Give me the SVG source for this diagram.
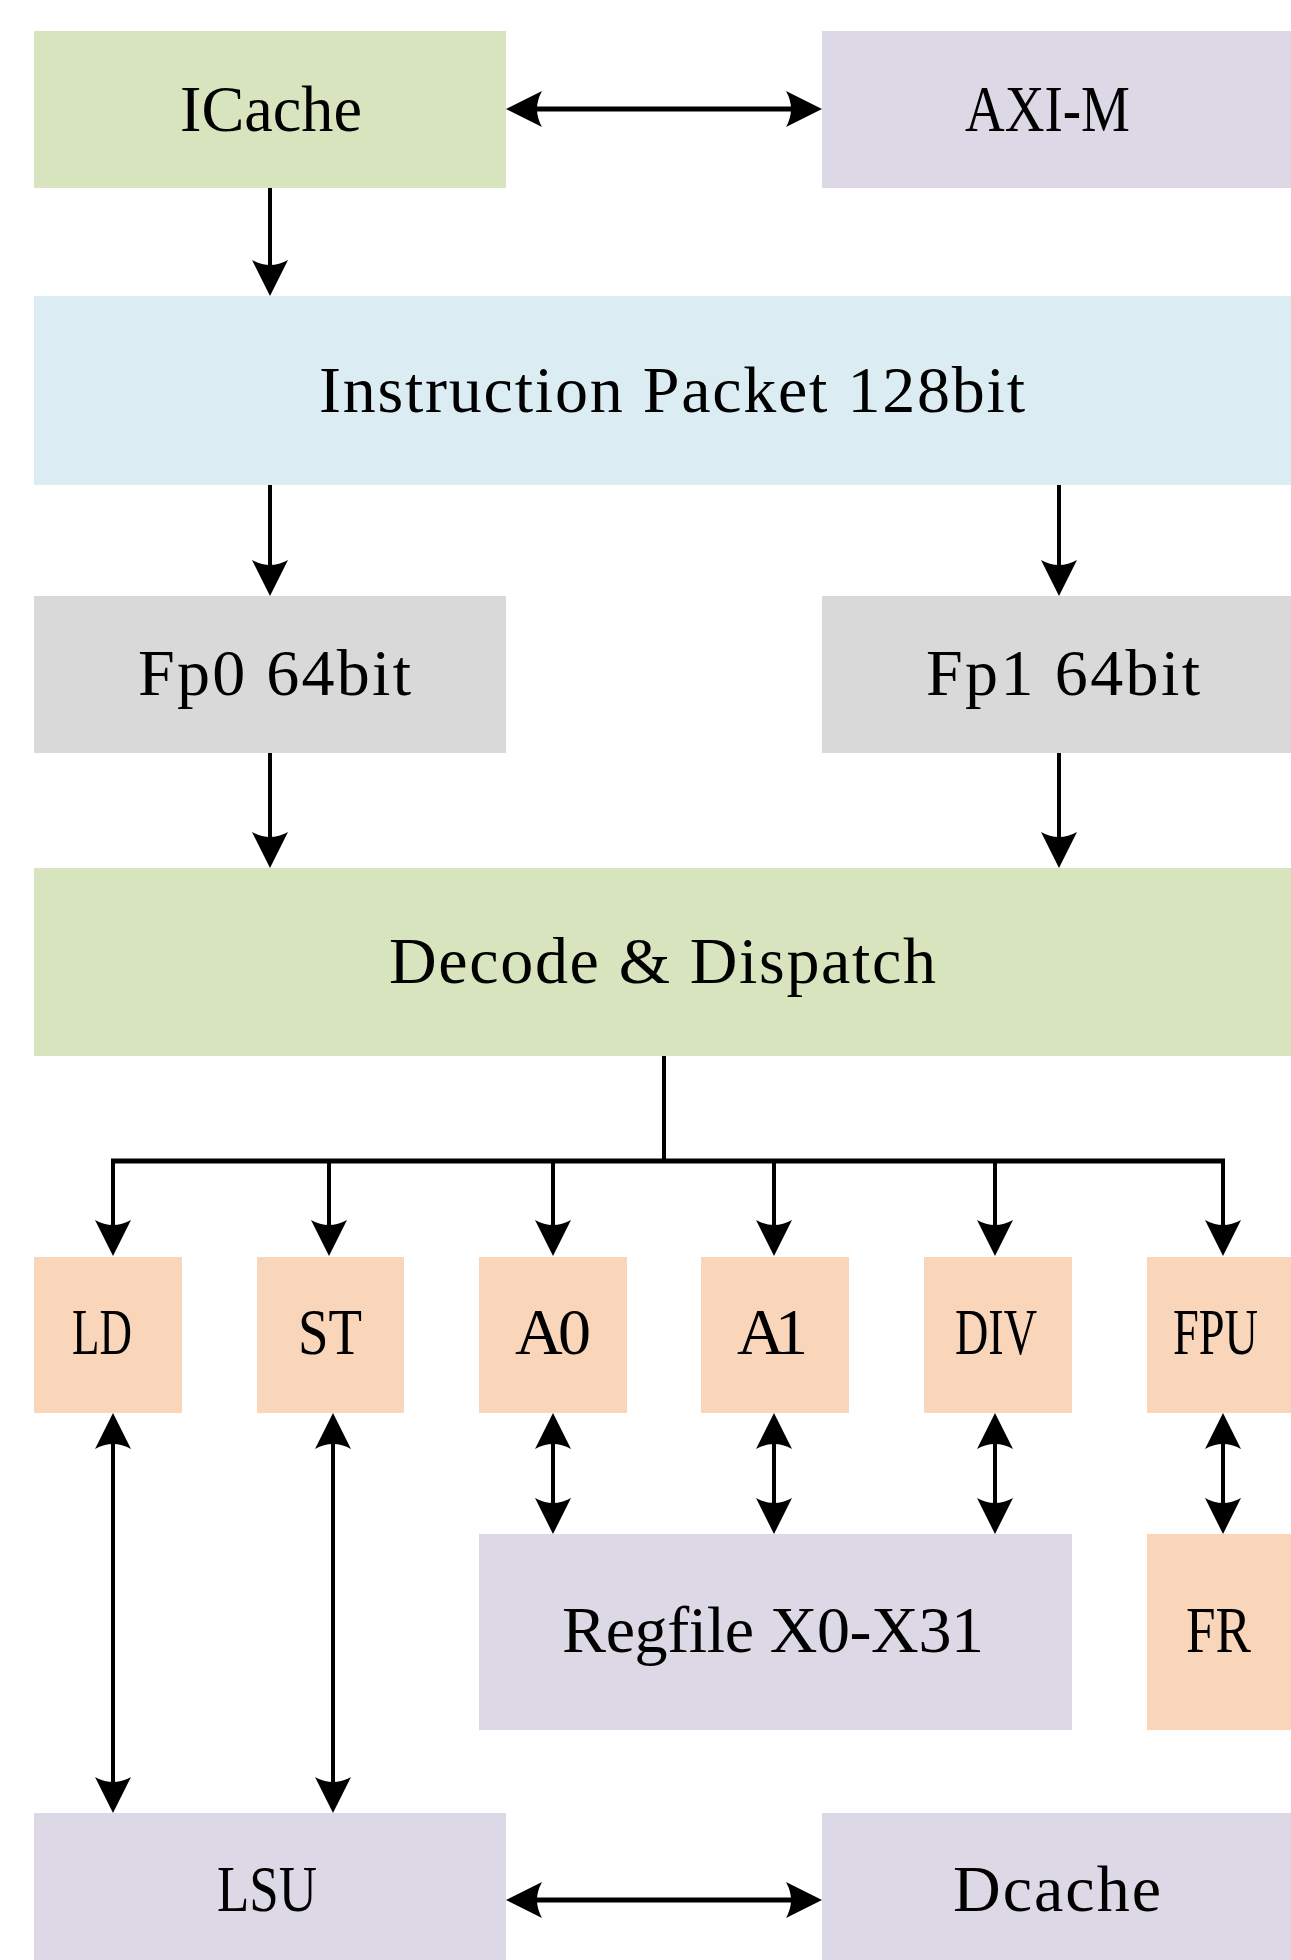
<svg xmlns="http://www.w3.org/2000/svg" width="1291" height="1960" viewBox="0 0 1291 1960">
<style>
.lbl{font-family:"Liberation Serif","Times New Roman",serif;font-size:66px;fill:#000}
.green{fill:#d7e4bd}.lav{fill:#dcd8e6}.blue{fill:#dbedf3}.gray{fill:#d9d9d9}.peach{fill:#f9d6ba}
.ln{stroke:#000;stroke-width:4;fill:none}
.thick{stroke-width:5}
</style>
<defs>
<marker id="ah" markerUnits="userSpaceOnUse" markerWidth="40" markerHeight="40" viewBox="0 0 40 40" refX="30" refY="18" orient="auto-start-reverse">
<path d="M36,18 L0,0 Q10,18 0,36 Z" fill="#000"/>
</marker>
</defs>
<rect width="1291" height="1960" fill="#fff"/>
<g id="icache"><rect class="green" x="34" y="31" width="472" height="157"/><text class="lbl" x="180" y="131" textLength="182" lengthAdjust="spacingAndGlyphs">ICache</text></g>
<g id="axim"><rect class="lav" x="822" y="31" width="469" height="157"/><text class="lbl" x="965" y="131" textLength="165" lengthAdjust="spacingAndGlyphs">AXI-M</text></g>
<g id="ipacket"><rect class="blue" x="34" y="296" width="1257" height="189"/><text class="lbl" x="319" y="412" textLength="706">Instruction Packet 128bit</text></g>
<g id="fp0"><rect class="gray" x="34" y="596" width="472" height="157"/><text class="lbl" x="138" y="695" textLength="273">Fp0 64bit</text></g>
<g id="fp1"><rect class="gray" x="822" y="596" width="469" height="157"/><text class="lbl" x="926" y="695" textLength="274">Fp1 64bit</text></g>
<g id="decode"><rect class="green" x="34" y="868" width="1257" height="188"/><text class="lbl" x="389" y="983" textLength="547">Decode &amp; Dispatch</text></g>
<g id="ld"><rect class="peach" x="34" y="1257" width="148" height="156"/><text class="lbl" x="72" y="1354" textLength="60" lengthAdjust="spacingAndGlyphs">LD</text></g>
<g id="st"><rect class="peach" x="257" y="1257" width="147" height="156"/><text class="lbl" x="298" y="1354" textLength="64" lengthAdjust="spacingAndGlyphs">ST</text></g>
<g id="a0"><rect class="peach" x="479" y="1257" width="148" height="156"/><text class="lbl" x="515" y="1354" textLength="76">A0</text></g>
<g id="a1"><rect class="peach" x="701" y="1257" width="148" height="156"/><text class="lbl" x="737" y="1354" textLength="71">A1</text></g>
<g id="div"><rect class="peach" x="924" y="1257" width="148" height="156"/><text class="lbl" x="955" y="1354" textLength="82" lengthAdjust="spacingAndGlyphs">DIV</text></g>
<g id="fpu"><rect class="peach" x="1147" y="1257" width="144" height="156"/><text class="lbl" x="1173" y="1354" textLength="85" lengthAdjust="spacingAndGlyphs">FPU</text></g>
<g id="regfile"><rect class="lav" x="479" y="1534" width="593" height="196"/><text class="lbl" x="562" y="1652" textLength="422">Regfile X0-X31</text></g>
<g id="fr"><rect class="peach" x="1147" y="1534" width="144" height="196"/><text class="lbl" x="1186" y="1652" textLength="65" lengthAdjust="spacingAndGlyphs">FR</text></g>
<g id="lsu"><rect class="lav" x="34" y="1813" width="472" height="147"/><text class="lbl" x="217" y="1911" textLength="100" lengthAdjust="spacingAndGlyphs">LSU</text></g>
<g id="dcache"><rect class="lav" x="822" y="1813" width="469" height="147"/><text class="lbl" x="953" y="1911" textLength="208">Dcache</text></g>
<g id="connectors">
<line class="ln thick" x1="512" y1="109" x2="816" y2="109" marker-start="url(#ah)" marker-end="url(#ah)"/>
<line class="ln" x1="270" y1="188" x2="270" y2="290" marker-end="url(#ah)"/>
<line class="ln" x1="270" y1="485" x2="270" y2="590" marker-end="url(#ah)"/>
<line class="ln" x1="1059" y1="485" x2="1059" y2="590" marker-end="url(#ah)"/>
<line class="ln" x1="270" y1="753" x2="270" y2="862" marker-end="url(#ah)"/>
<line class="ln" x1="1059" y1="753" x2="1059" y2="862" marker-end="url(#ah)"/>
<line class="ln" x1="664" y1="1056" x2="664" y2="1161"/>
<line class="ln thick" x1="111" y1="1161" x2="1225" y2="1161"/>
<line class="ln" x1="113" y1="1159" x2="113" y2="1250" marker-end="url(#ah)"/>
<line class="ln" x1="329" y1="1161" x2="329" y2="1250" marker-end="url(#ah)"/>
<line class="ln" x1="553" y1="1161" x2="553" y2="1250" marker-end="url(#ah)"/>
<line class="ln" x1="774" y1="1161" x2="774" y2="1250" marker-end="url(#ah)"/>
<line class="ln" x1="995" y1="1161" x2="995" y2="1250" marker-end="url(#ah)"/>
<line class="ln" x1="1223" y1="1159" x2="1223" y2="1250" marker-end="url(#ah)"/>
<line class="ln" x1="113" y1="1419" x2="113" y2="1807" marker-start="url(#ah)" marker-end="url(#ah)"/>
<line class="ln" x1="333" y1="1419" x2="333" y2="1807" marker-start="url(#ah)" marker-end="url(#ah)"/>
<line class="ln" x1="553" y1="1419" x2="553" y2="1528" marker-start="url(#ah)" marker-end="url(#ah)"/>
<line class="ln" x1="774" y1="1419" x2="774" y2="1528" marker-start="url(#ah)" marker-end="url(#ah)"/>
<line class="ln" x1="995" y1="1419" x2="995" y2="1528" marker-start="url(#ah)" marker-end="url(#ah)"/>
<line class="ln" x1="1223" y1="1419" x2="1223" y2="1528" marker-start="url(#ah)" marker-end="url(#ah)"/>
<line class="ln thick" x1="512" y1="1900" x2="816" y2="1900" marker-start="url(#ah)" marker-end="url(#ah)"/>
</g>
</svg>
